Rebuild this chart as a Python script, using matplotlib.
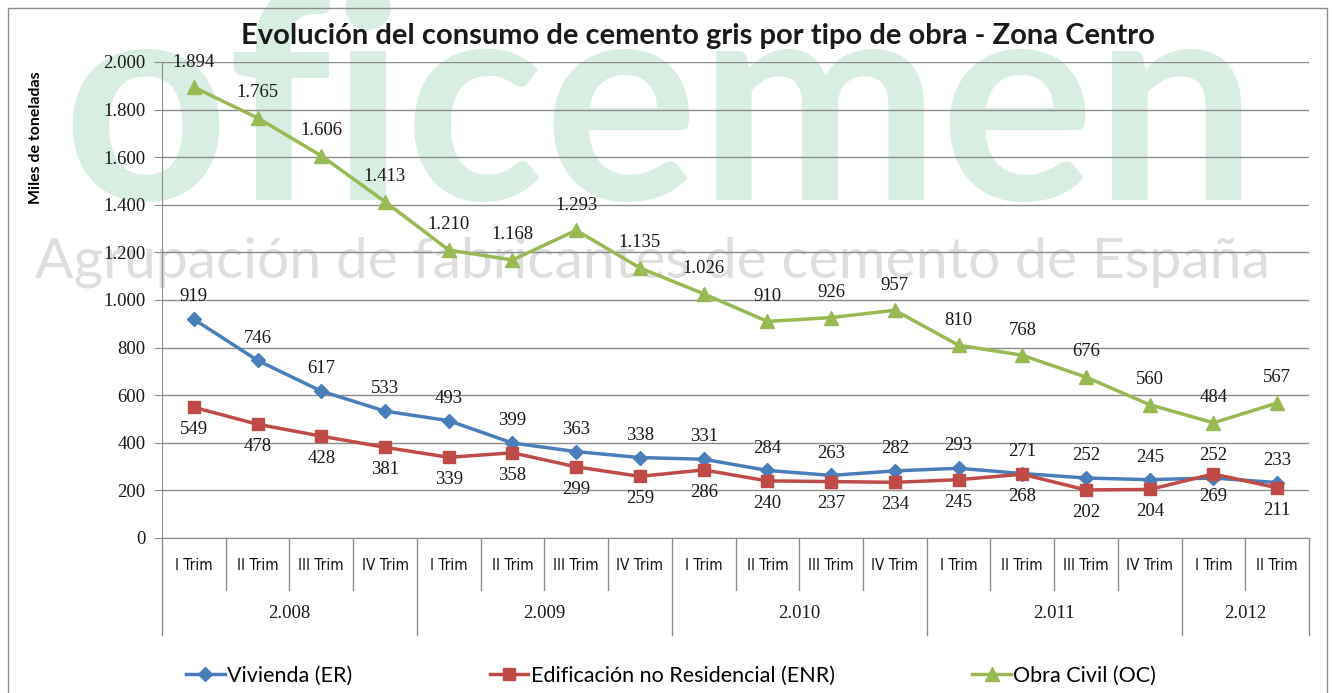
import matplotlib.pyplot as plt
from matplotlib.patches import Rectangle
from matplotlib.lines import Line2D
import matplotlib.transforms as mtrans

# data (miles de toneladas)
years = ['2.008', '2.009', '2.010', '2.011', '2.012']
quarters_per_year = [4, 4, 4, 4, 2]
quarter_names = ['I Trim', 'II Trim', 'III Trim', 'IV Trim']
vivienda = [919, 746, 617, 533, 493, 399, 363, 338, 331, 284, 263, 282, 293, 271, 252, 245, 252, 233]
enr = [549, 478, 428, 381, 339, 358, 299, 259, 286, 240, 237, 234, 245, 268, 202, 204, 269, 211]
obra_civil = [1894, 1765, 1606, 1413, 1210, 1168, 1293, 1135, 1026, 910, 926, 957, 810, 768, 676, 560, 484, 567]
yticks = list(range(0, 2001, 200))

def es_fmt(v):
    return '{:,}'.format(int(v)).replace(',', '.')

W, H = 1332, 693
fig = plt.figure(figsize=(W / 100, H / 100), dpi=100)
fig.patch.set_facecolor('white')

# outer frame
fig.add_artist(Rectangle((8 / W, -0.01), (1327 - 8) / W, 1 - 8 / H + 0.01, transform=fig.transFigure,
                         fill=False, edgecolor='#8c8c8c', lw=1.0, zorder=-5))

# watermark (behind everything)
fig.text(660 / W, 1 - 200 / H, 'oficemen', ha='center', va='baseline', fontsize=208,
         family='Lato', fontweight='bold', color='#d9eee2', zorder=-10)
fig.text(652 / W, 1 - 277 / H, 'Agrupación de fabricantes de cemento de España', ha='center', va='baseline',
         fontsize=41, family='Lato', color='#dedede', zorder=-10)

ax = fig.add_axes([162 / W, 1 - 538 / H, (1309 - 162) / W, (538 - 62) / H])
ax.patch.set_alpha(0)

n = len(vivienda)
x = list(range(n))
ax.set_xlim(-0.5, n - 0.5)
ax.set_ylim(0, 2000)
ax.set_yticks(yticks)
ax.set_yticklabels([es_fmt(v) for v in yticks], family='Liberation Serif', fontsize=13.5, color='#1a1a1a')
ax.yaxis.grid(True, color='#8c8c8c', lw=1)
ax.set_axisbelow(True)
ax.tick_params(axis='y', length=6, color='#8c8c8c', pad=6)
ax.tick_params(axis='x', length=0, labelbottom=False)
for s in ['top', 'right']:
    ax.spines[s].set_visible(False)
ax.spines['left'].set_color('#8c8c8c')
ax.spines['bottom'].set_color('#8c8c8c')

c_blue, c_red, c_green = '#4a7ebb', '#be4b48', '#98b954'
ax.plot(x, vivienda, color=c_blue, lw=2.5, marker='D', ms=7, label='Vivienda (ER)', zorder=3)
ax.plot(x, enr, color=c_red, lw=2.5, marker='s', ms=9, label='Edificación no Residencial (ENR)', zorder=3)
ax.plot(x, obra_civil, color=c_green, lw=2.5, marker='^', ms=10, label='Obra Civil (OC)', zorder=3)

lab_kw = dict(ha='center', fontsize=13.5, family='Liberation Serif', color='#1a1a1a', textcoords='offset points')
for xi, v in zip(x, obra_civil):
    ax.annotate(es_fmt(v), (xi, v), xytext=(0, 12), va='bottom', **lab_kw)
for xi, v in zip(x, vivienda):
    ax.annotate(es_fmt(v), (xi, v), xytext=(0, 10), va='bottom', **lab_kw)
for xi, v in zip(x, enr):
    ax.annotate(es_fmt(v), (xi, v), xytext=(0, -10), va='top', **lab_kw)

# two-level category axis
tr = mtrans.blended_transform_factory(ax.transData, ax.transAxes)
ax_h = (538 - 62)
y_q = -(565 - 538) / ax_h
y_qline = -(590 - 538) / ax_h
y_y = -(613 - 538) / ax_h
y_yline = -(635 - 538) / ax_h
cat_font = dict(family='DejaVu Sans', fontstretch='condensed', color='#111111')
pos = 0
for yr, cnt in zip(years, quarters_per_year):
    for q in range(cnt):
        ax.text(pos + q, y_q, quarter_names[q], transform=tr, ha='center', va='center',
                fontsize=11, **cat_font)
        if q > 0:
            ax.add_line(Line2D([pos + q - 0.5] * 2, [0, y_qline], transform=tr, color='#8c8c8c',
                               lw=1, clip_on=False))
    ax.text(pos + (cnt - 1) / 2, y_y, yr, transform=tr, ha='center', va='center',
            family='Liberation Serif', fontsize=13.5, color='#1a1a1a')
    ax.add_line(Line2D([pos - 0.5] * 2, [0, y_yline], transform=tr, color='#8c8c8c', lw=1, clip_on=False))
    pos += cnt
ax.add_line(Line2D([pos - 0.5] * 2, [0, y_yline], transform=tr, color='#8c8c8c', lw=1, clip_on=False))

ax.set_ylabel('Miles de toneladas', family='Lato', fontweight='bold', fontsize=11.5)
ax.yaxis.set_label_coords(-(162 - 43) / (1309 - 162), 0.842)

fig.text(698 / W, 1 - 36 / H, 'Evolución del consumo de cemento gris por tipo de obra - Zona Centro',
         ha='center', va='center', fontsize=21, fontweight='bold', family='Lato', color='#1a1a1a')

leg = fig.legend(loc='center', bbox_to_anchor=(671 / W, 1 - 676 / H), ncol=3, frameon=False,
                 prop={'family': 'Lato', 'size': 15.5}, columnspacing=6.4,
                 handlelength=1.8, handletextpad=0.1)

fig.savefig('out.png', dpi=100)
